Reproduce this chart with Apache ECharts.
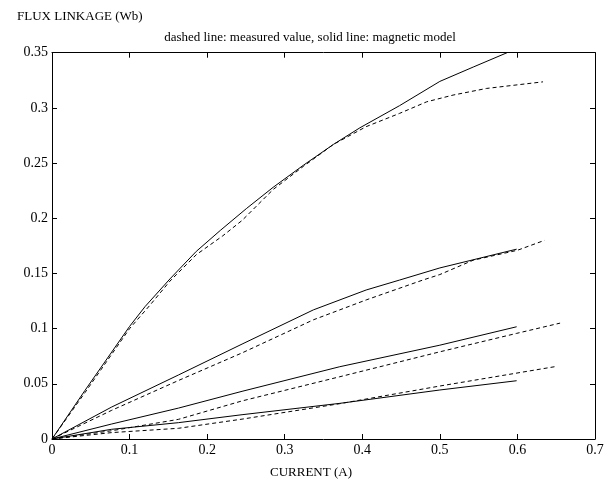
<!DOCTYPE html>
<html>
<head>
<meta charset="utf-8">
<script src="https://cdn.jsdelivr.net/npm/echarts@6/dist/echarts.min.js"></script>
<style>html,body{margin:0;padding:0;background:#fff}#c{width:607px;height:490px}</style>
</head>
<body>
<div id="c"></div>
<script>
var xTicks = [0, 0.1, 0.2, 0.3, 0.4, 0.5, 0.6, 0.7];
var yTicks = [0, 0.05, 0.1, 0.15, 0.2, 0.25, 0.3, 0.35];

var solid1 = [[0,0],[0.0425,0.044],[0.1,0.102],[0.12,0.12],[0.152,0.145],[0.186,0.170],[0.217,0.189],[0.251,0.209],[0.285,0.228],[0.324,0.248],[0.363,0.267],[0.397,0.282],[0.448,0.302],[0.5,0.324],[0.543,0.337],[0.59,0.351]];
var dashed1 = [[0,0],[0.0425,0.042],[0.1,0.1],[0.126,0.121],[0.152,0.143],[0.186,0.167],[0.22,0.184],[0.245,0.198],[0.285,0.226],[0.324,0.247],[0.363,0.267],[0.405,0.283],[0.448,0.295],[0.483,0.3055],[0.517,0.3116],[0.56,0.3176],[0.633,0.3236]];
var solid2 = [[0,0],[0.077,0.029],[0.163,0.058],[0.245,0.086],[0.337,0.117],[0.405,0.135],[0.448,0.144],[0.5,0.155],[0.599,0.172]];
var dashed2 = [[0,0],[0.077,0.026],[0.163,0.053],[0.245,0.078],[0.337,0.108],[0.405,0.126],[0.478,0.144],[0.5,0.149],[0.543,0.162],[0.6,0.171],[0.635,0.180]];
var solid3 = [[0,0],[0.077,0.0136],[0.163,0.028],[0.245,0.0432],[0.371,0.0655],[0.5,0.085],[0.599,0.1017]];
var dashed3 = [[0,0],[0.077,0.0075],[0.163,0.0178],[0.245,0.0345],[0.371,0.0564],[0.5,0.079],[0.599,0.0957],[0.655,0.105]];
var solid4 = [[0,0],[0.077,0.0088],[0.163,0.0148],[0.245,0.022],[0.371,0.0323],[0.5,0.0444],[0.599,0.0528]];
var dashed4 = [[0,0],[0.077,0.0058],[0.163,0.0097],[0.245,0.018],[0.371,0.032],[0.5,0.048],[0.648,0.0655]];

var FONT = 'Liberation Serif';
function fmt(v){ return String(Math.round(v*100)/100); }
function line(data, dashed){
  return {type:'line', data:data, showSymbol:false, symbol:'none', smooth:false, silent:true,
    lineStyle:{color:'#000', width:1, type: dashed ? [4,3] : 'solid'}, clip:true};
}
var chart = echarts.init(document.getElementById('c'), null, {renderer:'canvas'});
function axisBase(){
  return {
    type:'value', min:0,
    axisLine:{show:true, onZero:false, lineStyle:{color:'#000', width:1}},
    axisTick:{show:true, inside:true, length:5, lineStyle:{color:'#000'}},
    splitLine:{show:false}
  };
}
chart.setOption({
  animation:false,
  backgroundColor:'#fff',
  title:[
    {text:'FLUX LINKAGE (Wb)', left:12, top:5, textStyle:{fontFamily:FONT, fontSize:13, fontWeight:'normal', color:'#000'}},
    {text:'dashed line: measured value, solid line: magnetic model', left:305, textAlign:'center', top:26, textStyle:{fontFamily:FONT, fontSize:13, fontWeight:'normal', color:'#000'}},
    {text:'CURRENT (A)', left:306, textAlign:'center', top:461, textStyle:{fontFamily:FONT, fontSize:13, fontWeight:'normal', color:'#000'}}
  ],
  grid:{left:52, right:12, top:52.7, bottom:51, containLabel:false},
  xAxis:[
    Object.assign(axisBase(), {position:'bottom', max:0.7, interval:0.1,
      axisLabel:{show:true, color:'#000', fontFamily:FONT, fontSize:14, margin:4, formatter:fmt, showMinLabel:true, showMaxLabel:true}}),
    Object.assign(axisBase(), {position:'top', max:0.7, interval:0.1, axisLabel:{show:false}})
  ],
  yAxis:[
    Object.assign(axisBase(), {position:'left', max:0.35, interval:0.05,
      axisLabel:{show:true, color:'#000', fontFamily:FONT, fontSize:14, margin:4, formatter:fmt}}),
    Object.assign(axisBase(), {position:'right', max:0.35, interval:0.05, axisLabel:{show:false}})
  ],
  series:[
    line(solid1,false), line(dashed1,true),
    line(solid2,false), line(dashed2,true),
    line(solid3,false), line(dashed3,true),
    line(solid4,false), line(dashed4,true)
  ]
});
</script>
</body>
</html>
